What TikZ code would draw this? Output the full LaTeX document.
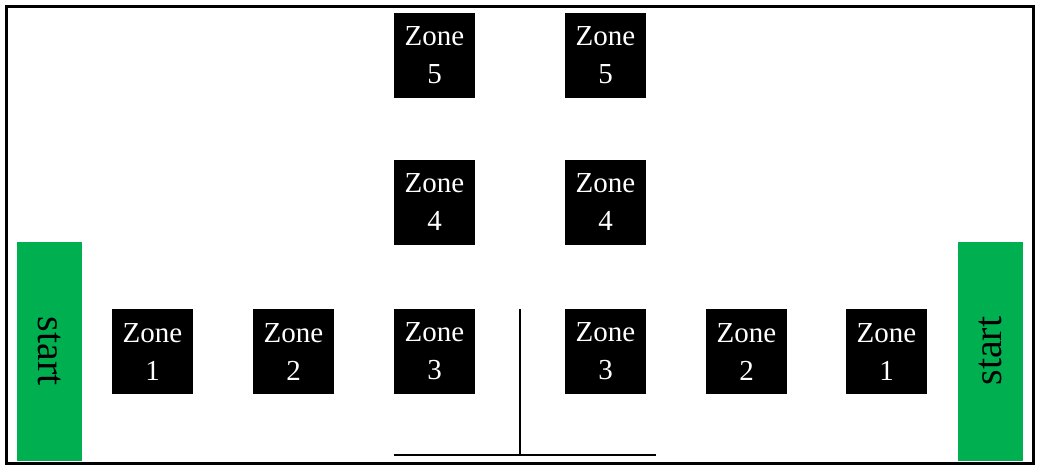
\documentclass[tikz,border=0pt]{standalone}
\usepackage{fontspec}
\setmainfont{Liberation Serif}
\usepackage{tikz}
\usetikzlibrary{positioning}
\definecolor{startgreen}{HTML}{00B050}
\tikzset{
  zonebox/.style={fill=black,text=white,minimum width=81,minimum height=85,
    inner sep=0pt,align=center,font=\fontsize{29}{38}\selectfont},
  startbar/.style={fill=startgreen,minimum width=65,minimum height=219,
    inner sep=0pt,font=\fontsize{40}{44}\selectfont},
}

\begin{document}
\begin{tikzpicture}[x=1pt,y=-1pt]
\useasboundingbox (0,0) rectangle (1043,471);
\draw[line width=3] (6.5,6) rectangle (1033.5,463);

\node[startbar] (startL) at (49.5,351) {\rotatebox{-90}{start}};
\node[startbar] (startR) at (990.5,351) {\rotatebox{90}{start}};

\node[zonebox] (zoneA1) at (152.5,351.5) {Zone\\1};
\node[zonebox] (zoneA2) at (293.5,351.5) {Zone\\2};
\node[zonebox] (zoneA3) at (434.5,351.5) {Zone\\3};
\node[zonebox] (zoneA4) at (434.5,202.5) {Zone\\4};
\node[zonebox] (zoneA5) at (434.5,55) {Zone\\5};

\node[zonebox] (zoneB3) at (605.5,351.5) {Zone\\3};
\node[zonebox] (zoneB4) at (605.5,202.5) {Zone\\4};
\node[zonebox] (zoneB5) at (605.5,55) {Zone\\5};
\node[zonebox] (zoneB2) at (746.5,351.5) {Zone\\2};
\node[zonebox] (zoneB1) at (886.5,351.5) {Zone\\1};

% divider
\coordinate (stemtop) at (519.5,309);
\coordinate (stembot) at (519.5,455);
\coordinate (baseL) at (394,455);
\coordinate (baseR) at (656,455);
\draw[line width=2] (stemtop) -- (stembot);
\draw[line width=2] (baseL) -- (baseR);
\end{tikzpicture}
\end{document}
